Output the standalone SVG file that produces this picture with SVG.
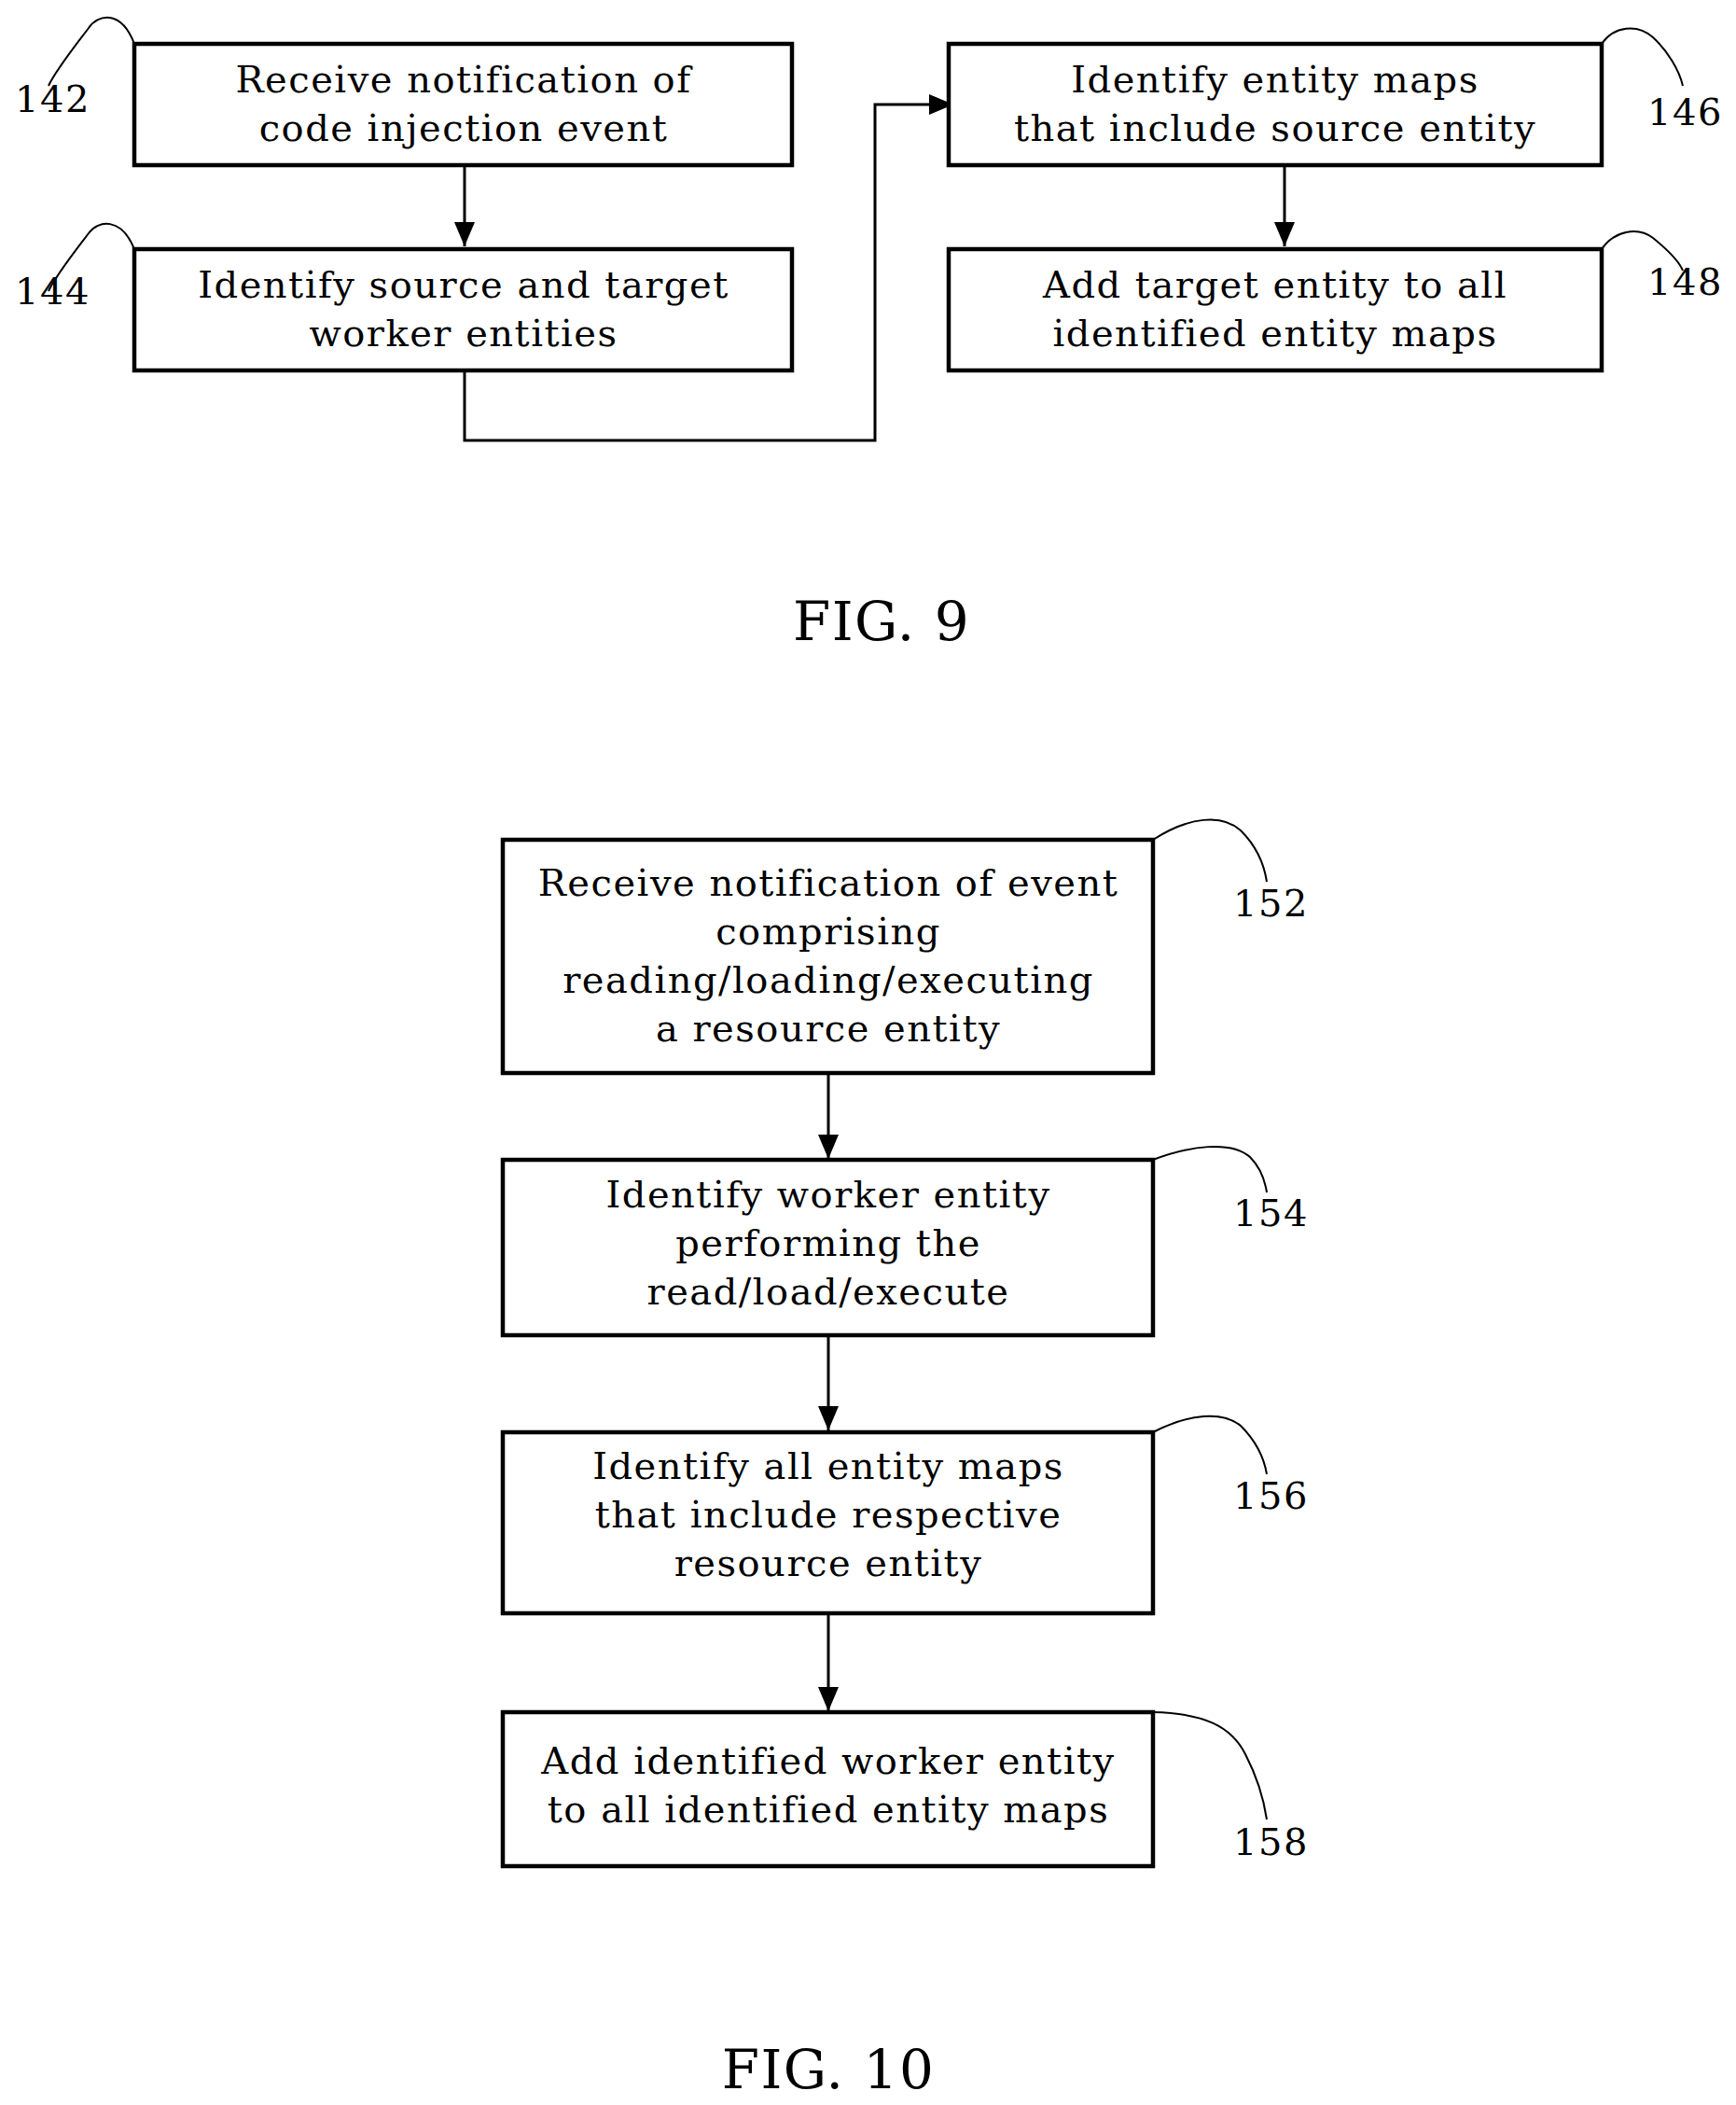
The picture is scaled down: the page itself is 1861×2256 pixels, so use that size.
<svg xmlns="http://www.w3.org/2000/svg" width="1861" height="2256" viewBox="0 0 1861 2256">
<style>
.b{fill:#fff;stroke:#000;stroke-width:4.5}
.c{fill:none;stroke:#000;stroke-width:3}
.l{fill:none;stroke:#000;stroke-width:2}
text{font-family:"DejaVu Serif","Liberation Serif",serif;font-size:40px;letter-spacing:1.5px;fill:#000}
.m{text-anchor:middle}
.f{font-size:58px}
</style>
<defs>
<marker id="ah" markerWidth="26" markerHeight="22" refX="26" refY="11" orient="auto" markerUnits="userSpaceOnUse"><path d="M0,0L26,11L0,22z"/></marker></defs>
<rect width="1861" height="2256" fill="#fff"/>
<g id="connectors">
<path class="c" d="M498,178V264" marker-end="url(#ah)"/>
<path class="c" d="M1377,178V264" marker-end="url(#ah)"/>
<path class="c" d="M498,398V472H938V112H1022" marker-end="url(#ah)"/>
<path class="c" d="M888,1152V1242" marker-end="url(#ah)"/>
<path class="c" d="M888,1432V1533" marker-end="url(#ah)"/>
<path class="c" d="M888,1729V1834" marker-end="url(#ah)"/>
</g>
<g id="n142"><rect class="b" x="144" y="47" width="705" height="130"/><text class="m" x="497" y="99">Receive notification of</text><text class="m" x="497" y="151">code injection event</text>
<path class="l" d="M144,47C130,10 105,15 95,30C80,50 60,75 52,92"/><text x="16" y="120">142</text></g>
<g id="n144"><rect class="b" x="144" y="267" width="705" height="130"/><text class="m" x="497" y="319">Identify source and target</text><text class="m" x="497" y="371">worker entities</text>
<path class="l" d="M144,267C130,232 105,236 95,250C80,270 60,295 52,312"/><text x="16" y="326">144</text></g>
<g id="n146"><rect class="b" x="1017" y="47" width="700" height="130"/><text class="m" x="1367" y="99">Identify entity maps</text><text class="m" x="1367" y="151">that include source entity</text>
<path class="l" d="M1717,47C1730,28 1755,25 1772,40C1788,55 1800,75 1804,92"/><text x="1766" y="134">146</text></g>
<g id="n148"><rect class="b" x="1017" y="267" width="700" height="130"/><text class="m" x="1367" y="319">Add target entity to all</text><text class="m" x="1367" y="371">identified entity maps</text>
<path class="l" d="M1717,267C1730,248 1755,242 1772,255C1788,268 1800,280 1804,290"/><text x="1766" y="316">148</text></g>
<text class="m f" x="945" y="686">FIG. 9</text>
<g id="n152"><rect class="b" x="539" y="900" width="697" height="250"/><text class="m" x="888" y="960">Receive notification of event</text><text class="m" x="888" y="1012">comprising</text><text class="m" x="888" y="1064">reading/loading/executing</text><text class="m" x="888" y="1116">a resource entity</text>
<path class="l" d="M1236,900C1275,875 1310,872 1330,890C1345,905 1355,925 1358,945"/><text x="1322" y="982">152</text></g>
<g id="n154"><rect class="b" x="539" y="1243" width="697" height="188"/><text class="m" x="888" y="1294">Identify worker entity</text><text class="m" x="888" y="1346">performing the</text><text class="m" x="888" y="1398">read/load/execute</text>
<path class="l" d="M1236,1243C1275,1228 1320,1222 1340,1240C1350,1250 1356,1265 1358,1278"/><text x="1322" y="1314">154</text></g>
<g id="n156"><rect class="b" x="539" y="1535" width="697" height="194"/><text class="m" x="888" y="1585">Identify all entity maps</text><text class="m" x="888" y="1637">that include respective</text><text class="m" x="888" y="1689">resource entity</text>
<path class="l" d="M1236,1535C1275,1515 1310,1512 1330,1528C1345,1543 1355,1562 1358,1580"/><text x="1322" y="1617">156</text></g>
<g id="n158"><rect class="b" x="539" y="1835" width="697" height="165"/><text class="m" x="888" y="1901">Add identified worker entity</text><text class="m" x="888" y="1953">to all identified entity maps</text>
<path class="l" d="M1236,1835C1290,1836 1320,1850 1335,1880C1348,1905 1355,1930 1358,1950"/><text x="1322" y="1988">158</text></g>
<text class="m f" x="888" y="2238">FIG. 10</text>
</svg>
